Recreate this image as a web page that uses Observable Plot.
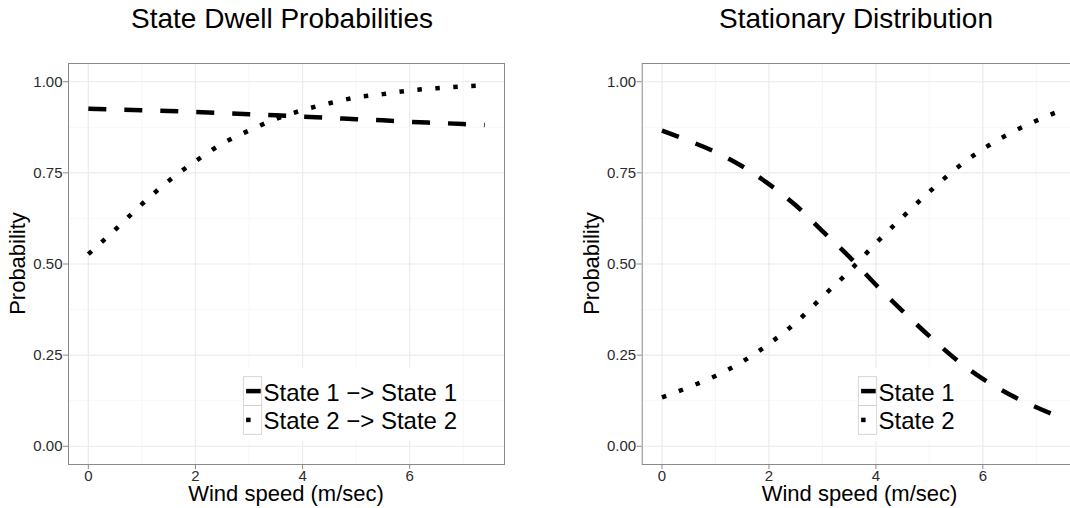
<!DOCTYPE html>
<html><head><meta charset="utf-8">
<script src="https://cdn.jsdelivr.net/npm/d3@7"></script>
<script src="https://cdn.jsdelivr.net/npm/@observablehq/plot@0.6"></script>
<style>
html,body{margin:0;padding:0;overflow:hidden;background:#fff;width:1070px;height:508px;}
#wrap{position:relative;width:1070px;height:508px;overflow:hidden;font-family:"Liberation Sans",Arial,Helvetica,sans-serif;}
#wrap > svg, #wrap > div{position:absolute;}
</style></head><body><div id="wrap"></div>
<script>
// ---- data ----
const windSpeed   = [0, 0.5, 1, 1.5, 2, 2.5, 3, 3.5, 4, 4.5, 5, 5.5, 6, 6.5, 7, 7.4];
const dwellState1 = [0.926, 0.924, 0.922, 0.920, 0.917, 0.914, 0.911, 0.908, 0.904, 0.901, 0.897, 0.894, 0.890, 0.887, 0.884, 0.881];
const dwellState2 = [0.527, 0.594, 0.664, 0.728, 0.782, 0.830, 0.866, 0.898, 0.922, 0.941, 0.957, 0.966, 0.976, 0.982, 0.987, 0.990];
const statState1  = [0.866, 0.838, 0.807, 0.768, 0.719, 0.661, 0.590, 0.520, 0.443, 0.371, 0.302, 0.238, 0.185, 0.142, 0.107, 0.082];
const statState2  = [0.134, 0.162, 0.193, 0.232, 0.281, 0.339, 0.410, 0.480, 0.557, 0.629, 0.698, 0.762, 0.815, 0.858, 0.893, 0.918];
const xTicks = [0, 2, 4, 6];
const xMinor = [1, 3, 5, 7];
const yTicks = [0, 0.25, 0.5, 0.75, 1];
const yMinor = [0.125, 0.375, 0.625, 0.875];
const titles = ["State Dwell Probabilities", "Stationary Distribution"];
const dwellLabels = ["State 1 \u2212> State 1", "State 2 \u2212> State 2"];
const statLabels = ["State 1", "State 2"];
const xLabel = "Wind speed (m/sec)";
const yLabel = "Probability";

const FONT = '"Liberation Sans", Arial, Helvetica, sans-serif';
const DASHED = "18,18", DOTTED = "4.5,13.5", LW = 4.5;

function panel(s1, s2, width, marginLeft) {
  const d1 = windSpeed.map((x, i) => ({x, y: s1[i]}));
  const d2 = windSpeed.map((x, i) => ({x, y: s2[i]}));
  return Plot.plot({
    width, height: 468,
    marginTop: 23, marginBottom: 44, marginLeft, marginRight: 32,
    x: {domain: [-0.37, 7.77], label: null},
    y: {domain: [-0.05, 1.05], label: null},
    style: {fontFamily: FONT, fontSize: "15px", background: "transparent", overflow: "visible"},
    marks: [
      Plot.ruleY(yMinor, {stroke: "#f4f4f4", strokeWidth: 0.7}),
      Plot.ruleX(xMinor, {stroke: "#f4f4f4", strokeWidth: 0.7}),
      Plot.ruleY(yTicks, {stroke: "#ebebeb", strokeWidth: 1.2}),
      Plot.ruleX(xTicks, {stroke: "#ebebeb", strokeWidth: 1.2}),
      Plot.line(d1, {x: "x", y: "y", stroke: "#000", strokeWidth: LW, strokeDasharray: DASHED, strokeLinecap: "butt", curve: "monotone-x"}),
      Plot.line(d2, {x: "x", y: "y", stroke: "#000", strokeWidth: LW, strokeDasharray: DOTTED, strokeLinecap: "butt", curve: "monotone-x"}),
      Plot.frame({stroke: "#8a8a8a", strokeWidth: 1}),
      Plot.axisX(xTicks, {tickSize: 5, tickPadding: 1, stroke: "#8a8a8a", fill: "#2b2b2b", fontSize: 15, label: null}),
      Plot.axisY(yTicks, {tickSize: 5, tickPadding: 1, stroke: "#8a8a8a", fill: "#2b2b2b", fontSize: 15, label: null, tickFormat: d => d.toFixed(2)})
    ]
  });
}

const wrap = document.getElementById("wrap");
const left = panel(dwellState1, dwellState2, 536, 68);
left.style.left = "0px"; left.style.top = "40px";
wrap.appendChild(left);
const right = panel(statState1, statState2, 574, 106.7);
right.style.left = "535px"; right.style.top = "40px";
wrap.appendChild(right);

// ---- overlay: titles, axis titles, legends ----
const ns = "http://www.w3.org/2000/svg";
const ov = d3.select(wrap).append("svg")
  .attr("width", 1070).attr("height", 508)
  .style("left", "0px").style("top", "0px")
  .style("font-family", FONT);

function text(x, y, s, size, anchor, rotate) {
  const t = ov.append("text").attr("x", x).attr("y", y)
    .attr("font-size", size).attr("text-anchor", anchor).attr("fill", "#000").text(s);
  if (rotate) t.attr("transform", `rotate(-90 ${x} ${y})`);
  return t;
}
text(282, 28, titles[0], 28, "middle");
text(856, 28, titles[1], 28, "middle");
text(286, 501, xLabel, 22, "middle");
text(859.5, 501, xLabel, 22, "middle");
text(25, 263.5, yLabel, 22, "middle", true);
text(598.5, 263.5, yLabel, 22, "middle", true);

function legend(keyX, bgRight, labels) {
  const keyTop = 376.7, cell = 28.8, keyW = 18.4;
  ov.append("rect").attr("x", keyX - 1.5).attr("y", 368).attr("width", bgRight - keyX + 1.5).attr("height", 73).attr("fill", "#fff");
  labels.forEach((lab, i) => {
    const y0 = keyTop + i * cell;
    ov.append("rect").attr("x", keyX).attr("y", y0).attr("width", keyW).attr("height", cell)
      .attr("fill", "#fff").attr("stroke", "#cccccc").attr("stroke-width", 0.8);
    ov.append("line").attr("x1", keyX + 2.8).attr("x2", keyX + keyW - 1).attr("y1", y0 + cell / 2).attr("y2", y0 + cell / 2)
      .attr("stroke", "#000").attr("stroke-width", LW).attr("stroke-dasharray", i === 0 ? DASHED : DOTTED);
    text(keyX + keyW + 1.8, i === 0 ? 401 : 428.6, lab, 24, "start");
  });
}
legend(243.3, 460, dwellLabels);
legend(858.3, 952, statLabels);
</script></body></html>
